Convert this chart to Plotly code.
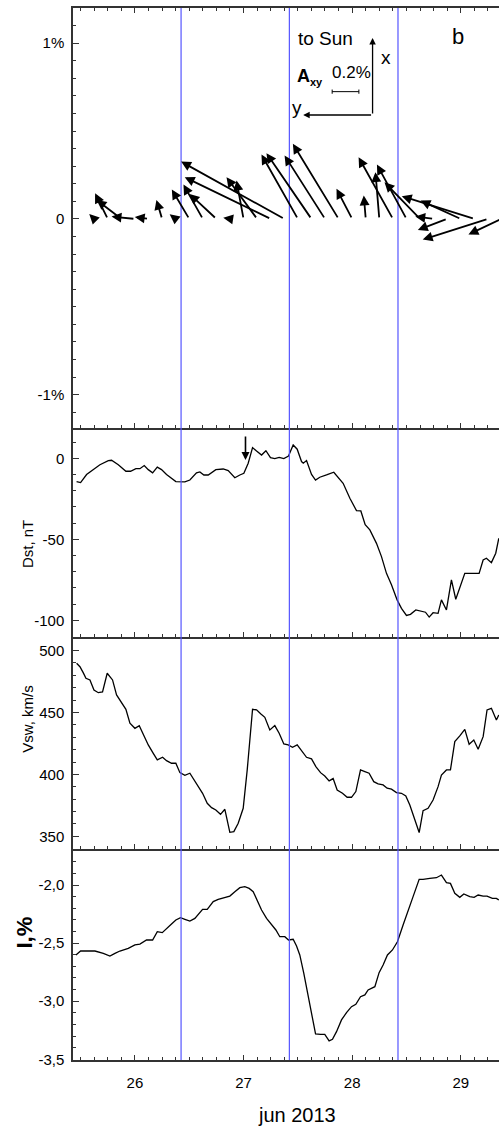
import plotly.graph_objects as go
from plotly.subplots import make_subplots

FONT = "Liberation Sans, Arial, sans-serif"

# ---------------- data ----------------
# Dst index, nT (time in days of June 2013)
dst_t = [25.463, 25.500, 25.555, 25.617, 25.678, 25.755, 25.785, 25.847, 25.917, 25.960,
         26.009, 26.046, 26.086, 26.123, 26.163, 26.206, 26.245, 26.291, 26.377, 26.460,
         26.506, 26.567, 26.598, 26.635, 26.675, 26.745, 26.813, 26.859, 26.920, 26.966,
         27.003, 27.043, 27.083, 27.120, 27.166, 27.206, 27.248, 27.288, 27.328, 27.371,
         27.414, 27.457, 27.494, 27.534, 27.550, 27.580, 27.626, 27.663, 27.702, 27.764,
         27.831, 27.917, 27.979, 28.040, 28.080, 28.120, 28.163, 28.224, 28.270, 28.316,
         28.362, 28.414, 28.454, 28.500, 28.537, 28.586, 28.629, 28.675, 28.709, 28.745,
         28.791, 28.822, 28.868, 28.914, 28.954, 29.006, 29.037, 29.083, 29.144, 29.169,
         29.206, 29.236, 29.282, 29.322, 29.350]
dst_v = [-14.4, -15.0, -10.0, -7.0, -4.0, -1.4, -1.2, -4.0, -8.0, -8.0,
         -6.4, -6.4, -4.5, -7.0, -9.0, -5.5, -7.0, -10.0, -14.4, -14.6,
         -13.4, -9.0, -8.4, -10.3, -10.3, -7.0, -6.6, -7.6, -12.0, -10.3,
         -9.3, -3.0, 6.6, 4.5, 2.0, 4.7, 0.4, -0.2, 0.6, -0.2,
         1.4, 8.2, 5.6, -2.0, -3.0, -1.4, -10.0, -13.4, -11.7, -10.3,
         -8.6, -15.4, -24.7, -32.3, -32.5, -41.0, -44.2, -52.5, -60.7, -71.0,
         -78.0, -87.4, -92.6, -97.0, -96.3, -93.6, -94.2, -95.0, -98.0, -95.3,
         -95.7, -87.4, -93.6, -75.0, -87.0, -77.0, -71.0, -71.0, -71.0, -71.0,
         -62.8, -61.7, -64.4, -58.6, -49.4]

# Solar wind speed, km/s
vsw_t = [25.463, 25.494, 25.525, 25.549, 25.586, 25.623, 25.663, 25.702, 25.745, 25.794,
         25.831, 25.877, 25.917, 25.954, 26.000, 26.040, 26.077, 26.123, 26.169, 26.206,
         26.255, 26.291, 26.337, 26.377, 26.414, 26.460, 26.506, 26.543, 26.583, 26.623,
         26.666, 26.706, 26.745, 26.788, 26.828, 26.874, 26.911, 26.951, 26.997, 27.034,
         27.083, 27.120, 27.160, 27.196, 27.242, 27.288, 27.328, 27.371, 27.411, 27.451,
         27.494, 27.534, 27.580, 27.626, 27.666, 27.709, 27.748, 27.788, 27.825, 27.862,
         27.911, 27.954, 27.994, 28.034, 28.077, 28.117, 28.156, 28.199, 28.239, 28.285,
         28.322, 28.362, 28.408, 28.454, 28.494, 28.531, 28.577, 28.617, 28.653, 28.699,
         28.745, 28.791, 28.822, 28.868, 28.905, 28.945, 28.991, 29.037, 29.077, 29.120,
         29.160, 29.206, 29.242, 29.282, 29.328, 29.350]
vsw_v = [489.8, 487.0, 482.0, 477.6, 476.3, 468.2, 466.0, 466.6, 481.7, 476.3,
         464.2, 457.4, 452.6, 441.3, 437.2, 439.4, 432.7, 423.8, 417.0, 411.7,
         413.8, 411.1, 409.0, 409.0, 401.4, 399.3, 400.9, 395.5, 389.6, 384.7,
         376.6, 373.1, 371.2, 367.7, 371.8, 353.2, 353.7, 360.5, 372.6, 403.6,
         452.6, 452.1, 448.8, 446.1, 435.9, 439.4, 433.2, 424.6, 423.8, 421.9,
         423.8, 419.2, 413.8, 412.5, 406.3, 401.4, 398.7, 394.7, 396.6, 387.4,
         384.7, 381.5, 381.5, 386.1, 403.6, 402.2, 400.9, 394.1, 392.3, 391.5,
         388.8, 388.0, 385.3, 384.7, 382.6, 375.3, 363.2, 353.0, 370.7, 372.6,
         379.3, 390.1, 399.5, 403.6, 403.6, 426.5, 431.1, 436.4, 424.3, 427.8,
         420.3, 430.5, 452.1, 453.4, 444.0, 448.0]

# Cosmic ray intensity variation, %
ci_t = [25.457, 25.500, 25.549, 25.632, 25.709, 25.770, 25.816, 25.862, 25.939, 26.000,
        26.046, 26.107, 26.163, 26.206, 26.252, 26.291, 26.337, 26.377, 26.420, 26.460,
        26.506, 26.552, 26.623, 26.666, 26.721, 26.767, 26.819, 26.874, 26.920, 26.966,
        27.012, 27.052, 27.089, 27.126, 27.166, 27.212, 27.258, 27.298, 27.334, 27.380,
        27.414, 27.457, 27.488, 27.518, 27.555, 27.595, 27.626, 27.663, 27.709, 27.748,
        27.788, 27.819, 27.856, 27.902, 27.948, 27.994, 28.034, 28.077, 28.117, 28.147,
        28.209, 28.248, 28.285, 28.325, 28.371, 28.417, 28.469, 28.515, 28.561, 28.617,
        28.653, 28.715, 28.776, 28.822, 28.868, 28.905, 28.945, 28.991, 29.028, 29.083,
        29.123, 29.160, 29.206, 29.242, 29.291, 29.328, 29.350]
ci_v = [-2.602, -2.568, -2.568, -2.568, -2.588, -2.611, -2.588, -2.568, -2.545, -2.516,
        -2.508, -2.473, -2.473, -2.401, -2.410, -2.373, -2.336, -2.301, -2.281, -2.295,
        -2.310, -2.287, -2.209, -2.209, -2.143, -2.123, -2.109, -2.095, -2.057, -2.023,
        -2.014, -2.029, -2.057, -2.129, -2.215, -2.287, -2.344, -2.387, -2.445, -2.445,
        -2.473, -2.467, -2.525, -2.602, -2.760, -2.961, -3.104, -3.282, -3.285, -3.285,
        -3.342, -3.328, -3.262, -3.161, -3.098, -3.047, -3.027, -2.961, -2.946, -2.903,
        -2.875, -2.754, -2.688, -2.602, -2.559, -2.488, -2.344, -2.229, -2.100, -1.951,
        -1.951, -1.943, -1.937, -1.914, -1.980, -1.986, -2.072, -2.106, -2.077, -2.100,
        -2.106, -2.086, -2.095, -2.095, -2.115, -2.115, -2.129]

# Anisotropy vectors A_xy (%, x = to Sun / up, y = to the left)
vec_t = [25.625, 25.750, 25.875, 26.000, 26.125, 26.250, 26.375, 26.500, 26.625, 26.750,
         26.875, 27.000, 27.125, 27.250, 27.375, 27.500, 27.625, 27.750, 27.875, 28.000,
         28.125, 28.250, 28.375, 28.500, 28.625, 28.750, 28.875, 29.000, 29.125, 29.250,
         29.375]
vec_ax = [0.028, 0.146, 0.108, 0.013, 0.010, 0.108, 0.026, 0.167, 0.195, 0.142,
          0.006, 0.218, 0.237, 0.237, 0.326, 0.366, 0.374, 0.361, 0.427, 0.171,
          0.133, 0.266, 0.351, 0.309, 0.209, 0.013, -0.063, 0.104, 0.129, -0.118,
          -0.089]
vec_ay = [0.028, 0.072, 0.141, 0.133, 0.078, 0.032, 0.034, 0.099, 0.110, 0.153,
          0.038, 0.040, 0.174, 0.489, 0.587, 0.207, 0.256, 0.230, 0.260, 0.089,
          0.011, 0.022, 0.195, 0.168, 0.202, 0.104, 0.167, 0.229, 0.413, 0.371,
          0.188]

# Event markers
boundaries = [26.425, 27.422, 28.422]
ssc_time = 27.018

X_RANGE = [25.43, 29.352]
Y_RANGES = [[-1.19, 1.2], [-110.3, 18.7], [339.7, 511.0], [-3.506, -1.69]]
Y_TICKVALS = [[-1, 0, 1], [-100, -50, 0], [350, 400, 450, 500], [-3.5, -3.0, -2.5, -2.0]]
Y_TICKTEXT = [["-1%", "0", "1%"], ["-100", "-50", "0"], ["350", "400", "450", "500"],
              ["-3,5", "-3,0", "-2,5", "-2,0"]]
Y_MINOR = [0.1, 10, 10, 0.1]

# ---------------- layout geometry ----------------
W, H = 499, 1132
ML, MR, MT, MB = 73, 0, 8, 72
ROW_H = [420, 209, 212, 211]

fig = make_subplots(rows=4, cols=1, shared_xaxes=True, vertical_spacing=0,
                    row_heights=ROW_H)

LINE = dict(color="black", width=1.3)
fig.add_trace(go.Scatter(x=dst_t, y=dst_v, mode="lines", line=LINE, hoverinfo="skip"), row=2, col=1)
fig.add_trace(go.Scatter(x=vsw_t, y=vsw_v, mode="lines", line=LINE, hoverinfo="skip"), row=3, col=1)
fig.add_trace(go.Scatter(x=ci_t, y=ci_v, mode="lines", line=LINE, hoverinfo="skip"), row=4, col=1)

AX_COLOR = "#333333"
for r in range(1, 5):
    xa = dict(range=X_RANGE, showline=True, linecolor=AX_COLOR, linewidth=1.5,
              ticks="inside", ticklen=5, tickwidth=1.2, tickcolor=AX_COLOR,
              tick0=26, dtick=1, showgrid=False, zeroline=False,
              mirror="ticks" if r == 1 else False,
              minor=dict(ticks="inside", ticklen=3, tickwidth=1, tickcolor=AX_COLOR,
                         tick0=26, dtick=0.125, showgrid=False),
              tickfont=dict(family=FONT, size=15, color="black"),
              ticklabelstandoff=8)
    fig.update_xaxes(xa, row=r, col=1)
    ya = dict(range=Y_RANGES[r - 1], showline=True, linecolor=AX_COLOR, linewidth=1.5,
              ticks="inside", ticklen=6, tickwidth=1.2, tickcolor=AX_COLOR,
              tickmode="array", tickvals=Y_TICKVALS[r - 1], ticktext=Y_TICKTEXT[r - 1],
              showgrid=False, zeroline=False,
              minor=dict(ticks="inside", ticklen=3, tickwidth=1, tickcolor=AX_COLOR,
                         tickmode="linear", tick0=0, dtick=Y_MINOR[r - 1], showgrid=False),
              tickfont=dict(family=FONT, size=15, color="black"),
              ticklabelstandoff=4)
    fig.update_yaxes(ya, row=r, col=1)
fig.update_xaxes(showticklabels=True, row=4, col=1)

# blue vertical event lines
for r in range(1, 5):
    xs = "x" if r == 1 else f"x{r}"
    ys = "y domain" if r == 1 else f"y{r} domain"
    for b in boundaries:
        fig.add_shape(type="line", x0=b, x1=b, y0=0, y1=1, xref=xs, yref=ys,
                      line=dict(color="rgb(85,85,255)", width=1.2), layer="above")

annotations = []
# isotropic scale for the vectors: days per percent
plot_w = W - ML - MR
px_per_day = plot_w / (X_RANGE[1] - X_RANGE[0])
px_per_pct = ROW_H[0] / (Y_RANGES[0][1] - Y_RANGES[0][0])
days_per_pct = px_per_pct / px_per_day

for t, a_x, a_y in zip(vec_t, vec_ax, vec_ay):
    annotations.append(dict(
        x=t - a_y * days_per_pct, y=a_x, ax=t, ay=0,
        xref="x", yref="y", axref="x", ayref="y",
        text="", showarrow=True, arrowhead=2, arrowsize=1.1, arrowwidth=1.8,
        arrowcolor="black", standoff=0, startstandoff=0))

# legend of the vector panel (coordinate system)
ox, oy = 28.188, 0.591
annotations.append(dict(x=ox, y=1.029, ax=ox, ay=oy, xref="x", yref="y", axref="x", ayref="y",
                        text="", showarrow=True, arrowhead=2, arrowsize=1, arrowwidth=1.3,
                        arrowcolor="black"))
annotations.append(dict(x=27.549, y=oy, ax=ox, ay=oy, xref="x", yref="y", axref="x", ayref="y",
                        text="", showarrow=True, arrowhead=2, arrowsize=1, arrowwidth=1.3,
                        arrowcolor="black"))
TXT = dict(family=FONT, color="black")
annotations += [
    dict(x=27.48, y=1.029, xref="x", yref="y", text="to Sun", showarrow=False,
         xanchor="left", yanchor="middle", font=dict(size=19, **TXT)),
    dict(x=28.973, y=1.04, xref="x", yref="y", text="b", showarrow=False,
         xanchor="center", yanchor="middle", font=dict(size=22, **TXT)),
    dict(x=28.31, y=0.918, xref="x", yref="y", text="x", showarrow=False,
         xanchor="center", yanchor="middle", font=dict(size=19, **TXT)),
    dict(x=27.49, y=0.635, xref="x", yref="y", text="y", showarrow=False,
         xanchor="center", yanchor="middle", font=dict(size=19, **TXT)),
    dict(x=27.47, y=0.805, xref="x", yref="y",
         text="<b>A</b><sub><b><span style='font-size:11px'>xy</span></b></sub>",
         showarrow=False, xanchor="left", yanchor="middle", font=dict(size=18, **TXT)),
    dict(x=27.99, y=0.835, xref="x", yref="y", text="0.2%", showarrow=False,
         xanchor="center", yanchor="middle", font=dict(size=17, **TXT)),
]
# scale bar 0.2%
bar_y = 0.724
fig.add_shape(type="line", x0=27.816, x1=28.062, y0=bar_y, y1=bar_y, xref="x", yref="y",
              line=dict(color="black", width=1))
for xb in (27.816, 28.062):
    fig.add_shape(type="line", x0=xb, x1=xb, y0=bar_y - 0.012, y1=bar_y + 0.012,
                  xref="x", yref="y", line=dict(color="black", width=1))

# SSC arrow in the Dst panel
annotations.append(dict(x=ssc_time, y=-1, ax=ssc_time, ay=14.4, xref="x2", yref="y2",
                        axref="x2", ayref="y2", text="", showarrow=True, arrowhead=2,
                        arrowsize=1, arrowwidth=1.6, arrowcolor="black"))

# axis titles
def px_to_paper_x(px):
    return (px - ML) / plot_w

annotations += [
    dict(x=px_to_paper_x(27.5), y=0.442, xref="paper", yref="y2 domain", text="Dst, nT",
         textangle=-90, showarrow=False, xanchor="center", yanchor="middle",
         font=dict(size=15, **TXT)),
    dict(x=px_to_paper_x(27.5), y=0.612, xref="paper", yref="y3 domain", text="Vsw, km/s",
         textangle=-90, showarrow=False, xanchor="center", yanchor="middle",
         font=dict(size=15, **TXT)),
    dict(x=px_to_paper_x(25), y=0.604, xref="paper", yref="y4 domain", text="<b>I,%</b>",
         textangle=-90, showarrow=False, xanchor="center", yanchor="middle",
         font=dict(size=22, **TXT)),
    dict(x=px_to_paper_x(296.7), y=-(1115 - (H - MB)) / (H - MT - MB), xref="paper",
         yref="paper", text="jun 2013", showarrow=False, xanchor="center",
         yanchor="middle", font=dict(size=20, **TXT)),
]

fig.update_layout(
    width=W, height=H, margin=dict(l=ML, r=MR, t=MT, b=MB),
    paper_bgcolor="white", plot_bgcolor="white", showlegend=False,
    annotations=annotations, font=dict(family=FONT, color="black"),
)

fig.write_html("out.html")
